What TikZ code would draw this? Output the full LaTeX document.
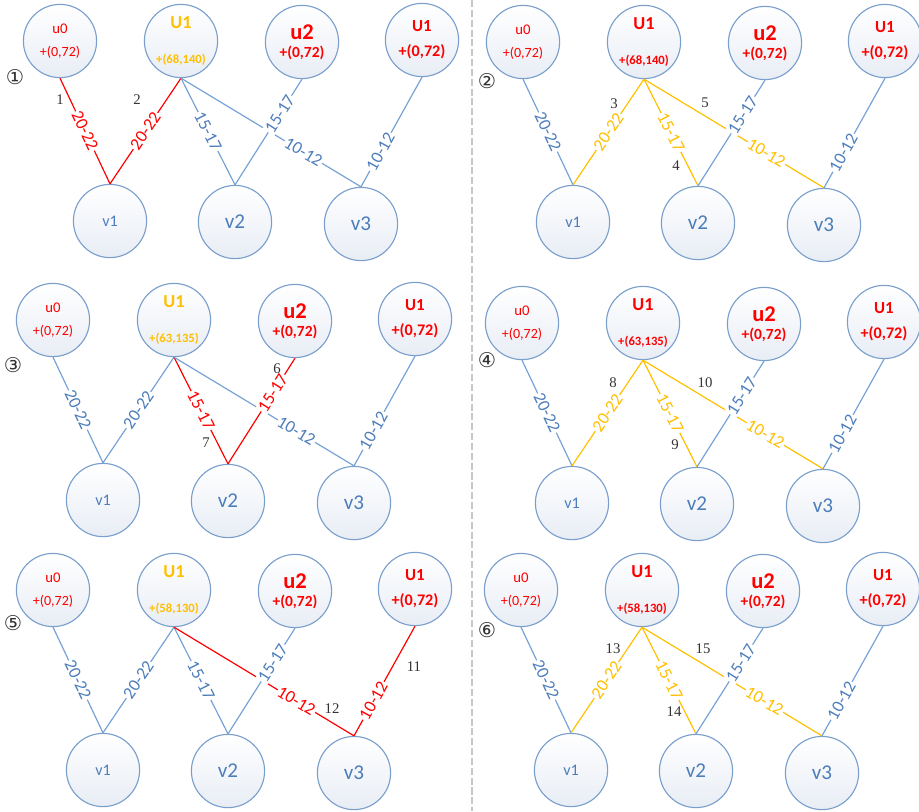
\documentclass[tikz,border=0pt]{standalone}
\usepackage{fontspec}
\setmainfont{Carlito}
\newfontfamily\serifa{Liberation Serif}
\newfontfamily\dejavu{DejaVu Sans}
\definecolor{lineblue}{HTML}{76A2D6}
\definecolor{ringblue}{HTML}{7A9FCC}
\definecolor{textblue}{HTML}{4D7EBB}
\definecolor{fillblue}{HTML}{E8EDF5}
\definecolor{oro}{HTML}{FFC000}
\newcommand{\fsz}[1]{\fontsize{#1}{#1}\selectfont}

\begin{document}
\begin{tikzpicture}[x=0.025cm,y=-0.025cm,
  vert/.style={circle,draw=ringblue,line width=0.8pt,minimum size=1.83cm,inner sep=0pt,
    top color=white,bottom color=fillblue,align=center},
  arista/.style={draw=lineblue,line width=0.85pt,text=textblue},
  roja/.style={draw=red,line width=0.85pt,text=red},
  dorada/.style={draw=oro,line width=0.85pt,text=oro},
  peso/.style={sloped,fill=white,inner sep=0.8pt,font=\fsz{12.5}},
  paso/.style={text=black!80,font=\serifa\fsz{10.5}},
  ronda/.style={text=black!80,font=\dejavu\fsz{14.5}}]
  \useasboundingbox (0,0) rectangle (919,811);
  % separador
  \draw[black!22,line width=1pt,dash pattern=on 5pt off 2pt] (472,0) -- (472,811);
  % vertices de los seis pasos
  \foreach \p/\sx/\sy/\uc/\ut in {1/60/41/oro/{+(68,140)},2/523/42/red/{+(68,140)},
      3/53/320/oro/{+(63,135)},4/522/323/red/{+(63,135)},
      5/53/590/oro/{+(58,130)},6/521/590/red/{+(58,130)}}{
    \begin{scope}[shift={(\sx,\sy)}]
      \node[vert,text=red] (u0-\p) at (0,0) {\fsz{10.5}u0\\[4.5pt]+(0,72)};
      \node[vert,text=\uc,font=\bfseries] (U1-\p) at (121,0) {\fsz{13}U1\\[13pt]\fsz{9}\ut};
      \node[vert,text=red,font=\bfseries] (u2-\p) at (242,1) {\fsz{16}u2\\[1pt]\fsz{11}+(0,72)};
      \node[vert,text=red,font=\bfseries] (U1b-\p) at (362,-1) {\fsz{12}U1\\[5.5pt]\fsz{11.5}+(0,72)};
      \node[vert,text=textblue] (v1-\p) at (50,180) {\fsz{11.5}v1};
      \node[vert,text=textblue] (v2-\p) at (175,181) {\fsz{15}v2};
      \node[vert,text=textblue] (v3-\p) at (301,183) {\fsz{15}\raisebox{-3pt}{v3}};
    \end{scope}
  }
  % paso 1
  \draw[roja] (u0-1.south) -- node[peso] (w-1a) {20-22} (v1-1.north);
  \draw[roja] (U1-1.south) -- node[peso] (w-1b) {20-22} (v1-1.north);
  \draw[arista] (U1-1.south) -- node[peso] (w-1c) {15-17} (v2-1.north);
  \draw[arista] (U1-1.south) -- node[peso,pos=.68] (w-1d) {10-12} (v3-1.north);
  \draw[arista] (u2-1.south) -- node[peso,pos=.33] (w-1e) {15-17} (v2-1.north);
  \draw[arista] (U1b-1.south) -- node[peso,pos=.68] (w-1f) {10-12} (v3-1.north);
  \node[paso] (n1) at (60,100) {1};
  \node[paso] (n2) at (137,100) {2};
  \node[ronda] (c1) at (15,77) {①};
  % paso 2
  \draw[arista] (u0-2.south) -- node[peso] (w-2a) {20-22} (v1-2.north);
  \draw[dorada] (U1-2.south) -- node[peso] (w-2b) {20-22} (v1-2.north);
  \draw[dorada] (U1-2.south) -- node[peso] (w-2c) {15-17} (v2-2.north);
  \draw[dorada] (U1-2.south) -- node[peso,pos=.68] (w-2d) {10-12} (v3-2.north);
  \draw[arista] (u2-2.south) -- node[peso,pos=.33] (w-2e) {15-17} (v2-2.north);
  \draw[arista] (U1b-2.south) -- node[peso,pos=.68] (w-2f) {10-12} (v3-2.north);
  \node[paso] (n3) at (614,104) {3};
  \node[paso] (n4) at (676,166) {4};
  \node[paso] (n5) at (705,103) {5};
  \node[ronda] (c2) at (487,81) {②};
  % paso 3
  \draw[arista] (u0-3.south) -- node[peso] (w-3a) {20-22} (v1-3.north);
  \draw[arista] (U1-3.south) -- node[peso] (w-3b) {20-22} (v1-3.north);
  \draw[roja] (U1-3.south) -- node[peso] (w-3c) {15-17} (v2-3.north);
  \draw[arista] (U1-3.south) -- node[peso,pos=.68] (w-3d) {10-12} (v3-3.north);
  \draw[roja] (u2-3.south) -- node[peso,pos=.33] (w-3e) {15-17} (v2-3.north);
  \draw[arista] (U1b-3.south) -- node[peso,pos=.68] (w-3f) {10-12} (v3-3.north);
  \node[paso] (n6) at (277,369) {6};
  \node[paso] (n7) at (206,443) {7};
  \node[ronda] (c3) at (13,365) {③};
  % paso 4
  \draw[arista] (u0-4.south) -- node[peso] (w-4a) {20-22} (v1-4.north);
  \draw[dorada] (U1-4.south) -- node[peso] (w-4b) {20-22} (v1-4.north);
  \draw[dorada] (U1-4.south) -- node[peso] (w-4c) {15-17} (v2-4.north);
  \draw[dorada] (U1-4.south) -- node[peso,pos=.68] (w-4d) {10-12} (v3-4.north);
  \draw[arista] (u2-4.south) -- node[peso,pos=.33] (w-4e) {15-17} (v2-4.north);
  \draw[arista] (U1b-4.south) -- node[peso,pos=.68] (w-4f) {10-12} (v3-4.north);
  \node[paso] (n8) at (613,383) {8};
  \node[paso] (n9) at (675,445) {9};
  \node[paso] (n10) at (705,383) {10};
  \node[ronda] (c4) at (487,360) {④};
  % paso 5
  \draw[arista] (u0-5.south) -- node[peso] (w-5a) {20-22} (v1-5.north);
  \draw[arista] (U1-5.south) -- node[peso] (w-5b) {20-22} (v1-5.north);
  \draw[arista] (U1-5.south) -- node[peso] (w-5c) {15-17} (v2-5.north);
  \draw[roja] (U1-5.south) -- node[peso,pos=.68] (w-5d) {10-12} (v3-5.north);
  \draw[arista] (u2-5.south) -- node[peso,pos=.33] (w-5e) {15-17} (v2-5.north);
  \draw[roja] (U1b-5.south) -- node[peso,pos=.68] (w-5f) {10-12} (v3-5.north);
  \node[paso] (n11) at (414,667) {11};
  \node[paso] (n12) at (332,709) {12};
  \node[ronda] (c5) at (13,623) {⑤};
  % paso 6
  \draw[arista] (u0-6.south) -- node[peso] (w-6a) {20-22} (v1-6.north);
  \draw[dorada] (U1-6.south) -- node[peso] (w-6b) {20-22} (v1-6.north);
  \draw[dorada] (U1-6.south) -- node[peso] (w-6c) {15-17} (v2-6.north);
  \draw[dorada] (U1-6.south) -- node[peso,pos=.68] (w-6d) {10-12} (v3-6.north);
  \draw[arista] (u2-6.south) -- node[peso,pos=.33] (w-6e) {15-17} (v2-6.north);
  \draw[arista] (U1b-6.south) -- node[peso,pos=.68] (w-6f) {10-12} (v3-6.north);
  \node[paso] (n13) at (613,649) {13};
  \node[paso] (n14) at (674,712) {14};
  \node[paso] (n15) at (703,649) {15};
  \node[ronda] (c6) at (487,630) {⑥};
\end{tikzpicture}
\end{document}
